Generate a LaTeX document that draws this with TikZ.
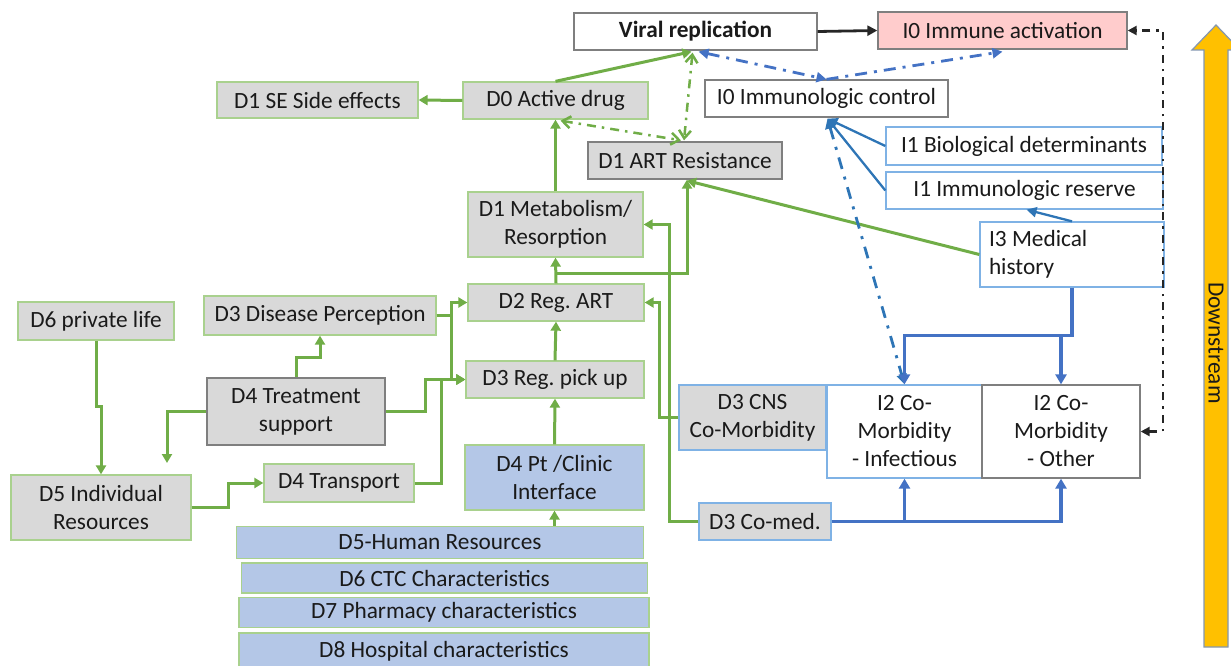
\documentclass[tikz,border=0pt]{standalone}
\usepackage{fontspec}
\setmainfont{Carlito}
\usetikzlibrary{arrows.meta,calc}
\definecolor{gfill}{HTML}{D9D9D9}
\definecolor{gbord}{HTML}{A9D18E}
\definecolor{dbord}{HTML}{7F7F7F}
\definecolor{lbord}{HTML}{7FB2E5}
\definecolor{bfill}{HTML}{B4C7E7}
\definecolor{pfill}{HTML}{FFCCCC}
\definecolor{grn}{HTML}{70AD47}
\definecolor{blu}{HTML}{4472C4}
\definecolor{blu2}{HTML}{2E75B6}
\definecolor{ylw}{HTML}{FFC000}
\definecolor{ybord}{HTML}{8497B0}
\definecolor{blk}{HTML}{262626}
\definecolor{txt}{HTML}{1A1A1A}
\begin{document}
\frenchspacing
\begin{tikzpicture}[x=1pt,y=-1pt,font=\fontsize{23.3}{28}\selectfont,text=txt]
\tikzset{
  bx/.style={draw,line width=1.3pt,inner sep=0pt,align=center},
  dbox/.style={bx,fill=gfill,draw=gbord},
  dboxd/.style={bx,fill=gfill,draw=dbord},
  dboxb/.style={bx,fill=gfill,draw=lbord},
  bbox/.style={bx,fill=bfill,draw=gbord},
  ibox/.style={bx,fill=white,draw=lbord},
  wbox/.style={bx,fill=white,draw=dbord},
  garrow/.style={draw=grn,line width=3pt,-{Triangle[length=9pt,width=10pt]}},
  gdd/.style={draw=grn,line width=2.5pt,dash pattern=on 9pt off 6pt on 2.5pt off 6pt,{Straight Barb[length=8pt,width=12pt]}-{Straight Barb[length=8pt,width=12pt]}},
  barrow/.style={draw=blu,line width=3.2pt,-{Triangle[length=10pt,width=11pt]}},
  b2arrow/.style={draw=blu2,line width=2.3pt,-{Triangle[length=10pt,width=10pt]}},
  bdd/.style={draw=blu,line width=2.8pt,dash pattern=on 12pt off 7pt on 3pt off 7pt},
  b2dd/.style={draw=blu2,line width=2.8pt,dash pattern=on 12pt off 8pt on 3pt off 8pt},
  kdd/.style={draw=blk,line width=2.5pt,dash pattern=on 8pt off 6pt on 2.5pt off 6pt,{Triangle[length=9pt,width=9pt]}-{Triangle[length=9pt,width=9pt]}},
}
\useasboundingbox (0,0) rectangle (1231,666);
\clip (0,0) rectangle (1231,666);

% Downstream arrow
\draw[fill=ylw,draw=ybord,line width=1.2pt] (1204,647) -- (1204,50) -- (1192,50) -- (1216,25) -- (1240,50) -- (1228,50) -- (1228,647) -- cycle;
\node[rotate=-90] (ds) at (1216,343) {Downstream};

% nodes
\node[wbox,minimum width=243pt,minimum height=37pt,font=\fontsize{23.3}{28}\selectfont\bfseries] (vr) at (695.5,31.5) {Viral replication};
\node[bx,fill=pfill,draw=dbord,minimum width=249pt,minimum height=37pt] (ia) at (1002.5,30.5) {I0 Immune activation};
\node[dbox,minimum width=201pt,minimum height=36pt] (se) at (317.5,100) {D1 SE Side effects};
\node[dbox,minimum width=185pt,minimum height=37pt] (d0) at (555.5,100.5) {D0 Active drug};
\node[wbox,minimum width=243pt,minimum height=37pt] (ic) at (826.5,98.5) {I0 Immunologic control};
\node[dboxd,minimum width=194pt,minimum height=37pt] (ar) at (685,160.5) {D1 ART Resistance};
\node[ibox,minimum width=276pt,minimum height=38pt] (bio) at (1024,146) {I1 Biological determinants};
\node[ibox,minimum width=277pt,minimum height=37pt] (res) at (1024.5,190.5) {I1 Immunologic reserve};
\node[ibox,minimum width=184pt,minimum height=65pt,text width=166pt,align=left] (med) at (1072,254.5) {I3\hspace{0.23em}Medical\\history};
\node[dbox,minimum width=175pt,minimum height=65pt] (met) at (555.5,224.5) {D1 Metabolism/\\Resorption};
\node[dbox,minimum width=176pt,minimum height=37pt] (reg) at (556,302.5) {D2 Reg. ART};
\node[dbox,minimum width=178pt,minimum height=37pt] (pick) at (555,379.5) {D3 Reg. pick up};
\node[dbox,minimum width=156pt,minimum height=38pt] (d6) at (96,321) {D6 private life};
\node[dbox,minimum width=232pt,minimum height=39pt] (dp) at (320,315.5) {D3 Disease Perception};
\node[dboxd,minimum width=178pt,minimum height=67pt] (ts) at (296,411.5) {D4 Treatment\\support};
\node[dbox,minimum width=180pt,minimum height=65pt] (ir) at (101,507.5) {D5 Individual\\Resources};
\node[dbox,minimum width=150pt,minimum height=38pt] (tr) at (339,483) {D4 Transport};
\node[bbox,minimum width=179pt,minimum height=65pt] (pc) at (554.5,477.5) {D4 Pt /Clinic\\Interface};
\node[bbox,minimum width=407pt,minimum height=32pt] (hr) at (440,542.5) {D5-Human Resources};
\node[bbox,minimum width=406pt,minimum height=30pt] (ctc) at (444.5,578) {D6 CTC Characteristics};
\node[bbox,minimum width=410pt,minimum height=30pt] (ph) at (444,612.5) {D7 Pharmacy characteristics};
\node[bbox,minimum width=410pt,minimum height=36pt] (hosp) at (444,651) {D8 Hospital characteristics};
\node[dboxb,minimum width=147pt,minimum height=65pt] (cns) at (752.5,417.5) {D3 CNS\\Co-Morbidity};
\node[ibox,minimum width=155pt,minimum height=93pt] (inf) at (904.5,431.5) {I2 Co-\\Morbidity\\- Infectious};
\node[wbox,minimum width=158pt,minimum height=93pt] (oth) at (1061,431.5) {I2 Co-\\Morbidity\\- Other};
\node[dboxb,minimum width=132pt,minimum height=37pt] (cm) at (765,521.5) {D3 Co-med.};

% helper coordinates
\coordinate (jx1) at (451,0);
\coordinate (jx2) at (425,0);
\coordinate (jx3) at (441,0);
\coordinate (e22) at (167,463);
\coordinate (kx) at (1163,0);

% black arrow
\draw[draw=blk,line width=2.8pt,-{Triangle[length=10pt,width=10pt]}] (vr.east) -- (ia.west);

% green connectors
\draw[garrow] (d0.west) -- (se.east);
\draw[garrow] (d0.north) -- ($(vr.south)+(-4,1)$);
\draw[gdd] ($(vr.south)+(-3,2)$) -- ($(ar.north)+(-1,-1)$);
\draw[gdd] ($(d0.south)+(5,1)$) -- ($(ar.north)+(-4,-1)$);
\draw[garrow] (met.north) -- (d0.south);
\draw[garrow] (reg.north) -- (met.south);
\draw[garrow] ($(reg.north)+(0,-10)$) -| ($(ar.south)+(2,0)$);
\draw[garrow] (med.west) -- ($(ar.south)+(2,1)$);
\draw[garrow] (pick.north) -- (reg.south);
\draw[garrow] (pc.north) -- (pick.south);
\draw[garrow] (pc.south |- hr.north) -- (pc.south);
\draw[garrow] (cns.west) -- ++(-19,0) |- (reg.east);
\draw[garrow] (cm.west) -- ++(-29,0) |- (met.east);
\draw[garrow] (dp.east) -| (jx1 |- reg.west) -- (reg.west);
\draw[garrow] (dp.east) -| (jx1 |- pick.west) -- (pick.west);
\draw[garrow] (ts.east) -| (jx2 |- pick.west) -- (pick.west);
\draw[garrow] (tr.east) -| (jx3 |- pick.west) -- (pick.west);
\draw[garrow] (ts.north) -- ++(0,-20) -| (dp.south);
\draw[garrow] (ts.west) -| (e22);
\draw[garrow] (d6.south) -- ++(0,66) -| (ir.north);
\draw[garrow] (ir.east) -- ++(37,0) |- (tr.west);

% blue connectors
\draw[bdd,{Triangle[length=10pt,width=10pt]}-{Triangle[length=10pt,width=10pt]}] ($(vr.south)+(3,1)$) -- (ic.north);
\draw[bdd,-{Triangle[length=10pt,width=10pt]}] (ic.north) -- ($(ia.south)+(0,2)$);
\draw[b2arrow] (bio.west) -- ($(ic.south)+(1,1)$);
\draw[b2arrow] (res.west) -- ($(ic.south)+(1,1)$);
\draw[b2arrow] (med.north) -- ($(res.south)+(2,0)$);
\draw[b2dd,{Triangle[length=10pt,width=10pt]}-{Triangle[length=10pt,width=10pt]}] ($(ic.south)+(1,1)$) -- (inf.north);
\draw[barrow] (med.south) -- ++(0,48) -| (inf.north);
\draw[barrow] (med.south) -- ++(0,48) -| (oth.north);
\draw[barrow] (cm.east) -| (inf.south);
\draw[barrow] (cm.east) -| (oth.south);

% black dash-dot
\draw[kdd] (oth.east) -- (kx |- oth.east) -- (kx |- ia.east) -- (ia.east);
\end{tikzpicture}
\end{document}
